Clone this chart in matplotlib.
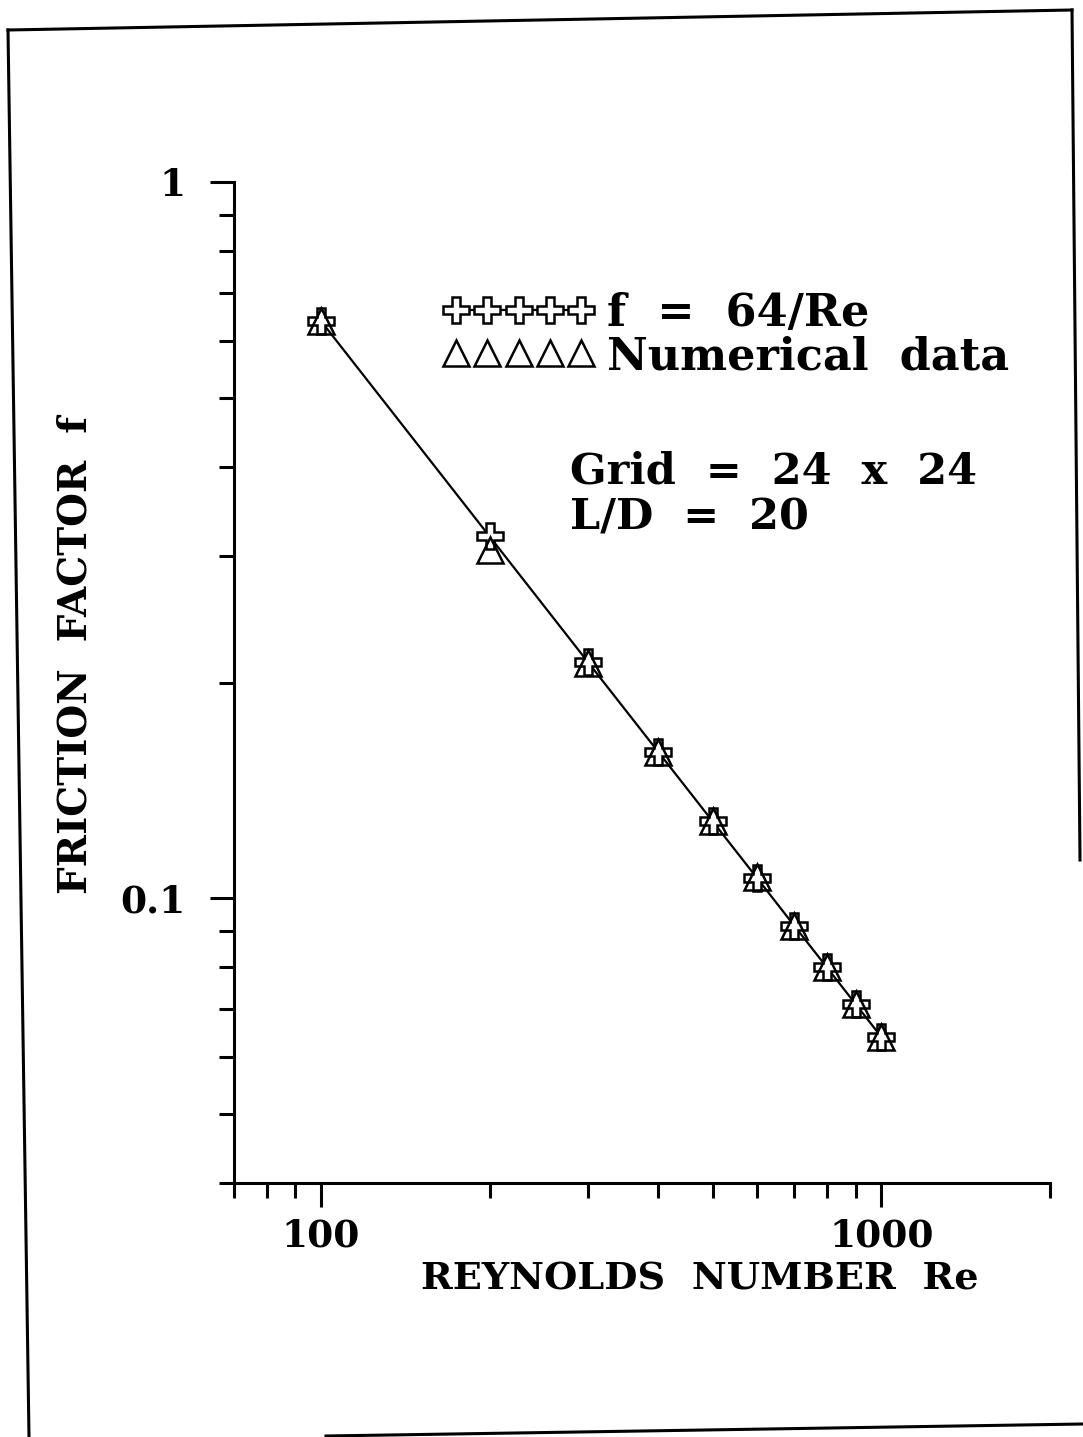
import matplotlib
matplotlib.use('Agg')
import matplotlib.pyplot as plt
from matplotlib.lines import Line2D
from matplotlib.ticker import NullFormatter

# values
reynolds = [100, 200, 300, 400, 500, 600, 700, 800, 900, 1000]
f_laminar = [0.64, 0.32, 0.2133, 0.16, 0.128, 0.1067, 0.0914, 0.08, 0.0711, 0.064]
f_numerical = [0.64, 0.306, 0.213, 0.16, 0.128, 0.107, 0.0914, 0.08, 0.0711, 0.064]

x_major = [100, 1000]
x_major_labels = ['100', '1000']
x_minor = [70, 80, 90, 200, 300, 400, 500, 600, 700, 800, 900, 2000]
y_major = [0.1, 1]
y_major_labels = ['0.1', '1']
y_minor = [0.04, 0.05, 0.06, 0.07, 0.08, 0.09, 0.2, 0.3, 0.4, 0.5, 0.6, 0.7, 0.8, 0.9]

W, H = 1083, 1437
serif = 'DejaVu Serif'

fig = plt.figure(figsize=(W / 100, H / 100), dpi=100)
ax_l, ax_r, ax_t, ax_b = 234, 1050, 182, 1183
ax = fig.add_axes([ax_l / W, 1 - ax_b / H, (ax_r - ax_l) / W, (ax_b - ax_t) / H])

ax.plot(reynolds, f_laminar, color='black', lw=1.6, marker='P', ms=19,
        mfc='white', mec='black', mew=1.8, label='f  =  64/Re')
ax.plot(reynolds, f_numerical, ls='none', marker='^', ms=19,
        mfc='none', mec='black', mew=1.8, label='Numerical  data')

ax.set_xscale('log')
ax.set_yscale('log')
ax.set_xlim(70, 2000)
ax.set_ylim(0.04, 1)

ax.set_xticks(x_major, x_major_labels)
ax.set_xticks(x_minor, minor=True)
ax.set_yticks(y_major, y_major_labels)
ax.set_yticks(y_minor, minor=True)
ax.xaxis.set_minor_formatter(NullFormatter())
ax.yaxis.set_minor_formatter(NullFormatter())

for s in ['top', 'right']:
    ax.spines[s].set_visible(False)
for s in ['left', 'bottom']:
    ax.spines[s].set_linewidth(2.2)

ax.tick_params(which='major', direction='out', width=2.2, length=17)
ax.tick_params(which='minor', direction='out', width=2.2, length=11)
ax.tick_params(axis='x', which='major', pad=8)
ax.tick_params(axis='y', which='major', pad=18)
for lab in ax.get_xticklabels() + ax.get_yticklabels():
    lab.set_fontfamily(serif)
    lab.set_fontweight('bold')
    lab.set_fontsize(27)

ax.set_xlabel('REYNOLDS  NUMBER  Re', fontfamily=serif, fontsize=27.5, fontweight='bold')
ax.xaxis.set_label_coords((700 - ax_l) / (ax_r - ax_l), -(1260 - ax_b) / (ax_b - ax_t))
ax.set_ylabel('FRICTION  FACTOR  f', fontfamily=serif, fontsize=28, fontweight='bold')
ax.yaxis.set_label_coords(-(ax_l - 95) / (ax_r - ax_l), (ax_b - 655) / (ax_b - ax_t))

leg = ax.legend(loc='upper left', bbox_to_anchor=(443 / W, 1 - 292 / H),
                bbox_transform=fig.transFigure, frameon=False, numpoints=5,
                handlelength=3.4, handletextpad=0.3, labelspacing=0.0,
                borderpad=0, borderaxespad=0,
                prop={'family': serif, 'weight': 'bold', 'size': 32})

ax.text((570 - ax_l) / (ax_r - ax_l), (ax_b - 472) / (ax_b - ax_t), 'Grid  =  24  x  24',
        transform=ax.transAxes, fontfamily=serif, fontweight='bold', fontsize=31, va='center')
ax.text((570 - ax_l) / (ax_r - ax_l), (ax_b - 517) / (ax_b - ax_t), 'L/D  =  20',
        transform=ax.transAxes, fontfamily=serif, fontweight='bold', fontsize=31, va='center')

# page frame around the plot
def frame_line(x0, y0, x1, y1):
    fig.add_artist(Line2D([x0 / W, x1 / W], [1 - y0 / H, 1 - y1 / H],
                          transform=fig.transFigure, color='black', lw=2.2))

frame_line(8, 30, 1072, 10)
frame_line(8, 30, 29, 1437)
frame_line(1072, 10, 1080, 860)
frame_line(326, 1436, 1083, 1424)

fig.savefig('out.png', dpi=100)
